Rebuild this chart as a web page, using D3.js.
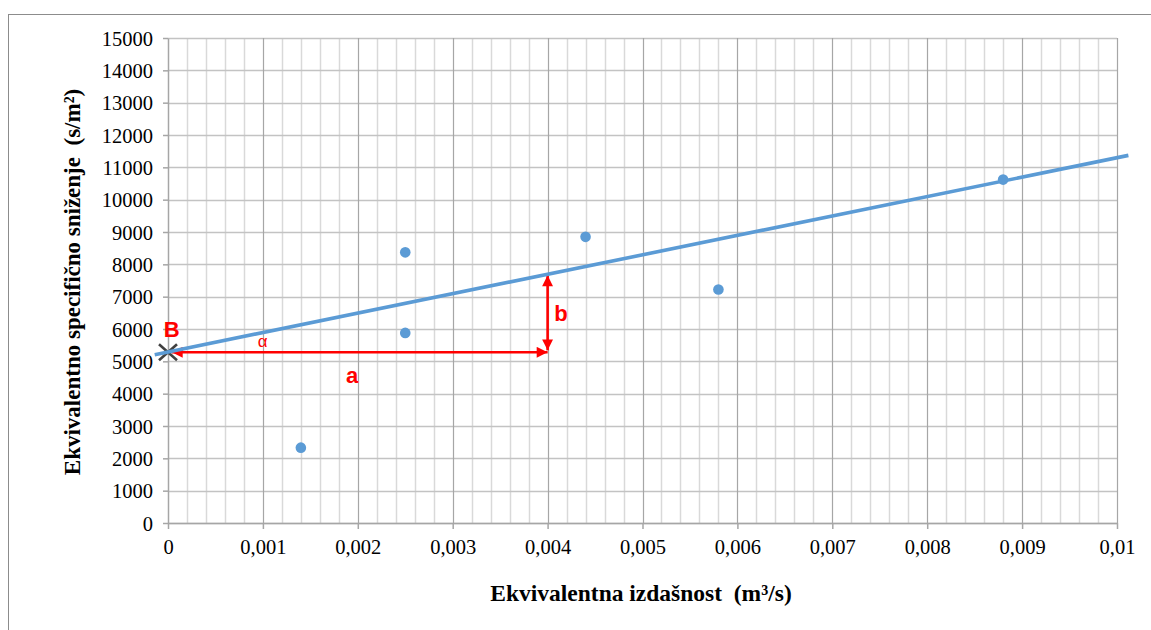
<!DOCTYPE html>
<html><head><meta charset="utf-8">
<script src="https://cdn.jsdelivr.net/npm/d3@7"></script>
<style>
html,body{margin:0;padding:0;background:#fff;}
svg{display:block;}
.serif{font-family:"Liberation Serif","Times New Roman",serif;}
</style></head>
<body>
<svg id="chart" width="1151" height="630"></svg>
<script>
// ---- data ----
const pointsX = [0.0014, 0.0025, 0.0025, 0.0044, 0.0058, 0.0088];
const pointsY = [2330, 8370, 5880, 8850, 7220, 10620];
const trendX = [-0.00014, 0.01012];
const trendY = [5206, 11370];
const xTickValues = [0, 0.001, 0.002, 0.003, 0.004, 0.005, 0.006, 0.007, 0.008, 0.009, 0.01];
const xTickLabels = ["0", "0,001", "0,002", "0,003", "0,004", "0,005", "0,006", "0,007", "0,008", "0,009", "0,01"];
const yTickValues = [0,1000,2000,3000,4000,5000,6000,7000,8000,9000,10000,11000,12000,13000,14000,15000];
const yTickLabels = yTickValues.map(String);
const pointB = [0, 5280];
const arrowA = [[0.00004, 5280], [0.0040, 5280]];
const arrowB = [[0.0040, 5340], [0.0040, 7660]];
const annoText = ["B", "α", "a", "b"];
const annoX = [0.00004, 0.000998, 0.00194, 0.00414];
const annoY = [5750, 5440, 4330, 6245];
const xTitle = "Ekvivalentna izdašnost\u00a0 (m³/s)";
const yTitle = "Ekvivalentno specifično sniženje\u00a0 (s/m²)";

const svg = d3.select("#chart");
const x = d3.scaleLinear().domain([0, 0.01]).range([168, 1117]);
const y = d3.scaleLinear().domain([0, 15000]).range([523, 38]);

// outer border
svg.append("rect").attr("x", 8.5).attr("y", 14.5).attr("width", 1200).attr("height", 700)
  .attr("fill", "none").attr("stroke", "#8c8c8c").attr("stroke-width", 1);

// minor vertical grid
const minorX = d3.range(0, 51).map(i => i * 0.0002);
svg.append("g").selectAll("line").data(minorX.filter((d, i) => i % 5 !== 0)).join("line")
  .attr("x1", d => Math.round(x(d)) + 0.5).attr("x2", d => Math.round(x(d)) + 0.5)
  .attr("y1", y(15000)).attr("y2", y(0))
  .attr("stroke", "#d9d9d9").attr("stroke-width", 1.5);
// horizontal grid
svg.append("g").selectAll("line").data(yTickValues).join("line")
  .attr("x1", x(0)).attr("x2", x(0.01))
  .attr("y1", d => Math.round(y(d)) + 0.5).attr("y2", d => Math.round(y(d)) + 0.5)
  .attr("stroke", "#c3c3c3").attr("stroke-width", 1.5);
// major vertical grid
svg.append("g").selectAll("line").data(xTickValues.slice(1)).join("line")
  .attr("x1", d => Math.round(x(d)) + 0.5).attr("x2", d => Math.round(x(d)) + 0.5)
  .attr("y1", y(15000)).attr("y2", y(0))
  .attr("stroke", "#a6a6a6").attr("stroke-width", 1.2);

// axes
const xAxis = d3.axisBottom(x).tickValues(xTickValues).tickFormat((d, i) => xTickLabels[i])
  .tickSizeInner(6).tickSizeOuter(0).tickPadding(8);
const gx = svg.append("g").attr("transform", `translate(0,${y(0)})`).call(xAxis);
const yAxis = d3.axisLeft(y).tickValues(yTickValues).tickFormat((d, i) => yTickLabels[i])
  .tickSizeInner(5).tickSizeOuter(0).tickPadding(10);
const gy = svg.append("g").attr("transform", `translate(${x(0)},0)`).call(yAxis);
[gx, gy].forEach(g => {
  g.attr("font-family", null).attr("font-size", null).attr("class", "serif");
  g.select(".domain").attr("stroke", "#a6a6a6").attr("stroke-width", 1.5);
  g.selectAll(".tick line").attr("stroke", "#a6a6a6").attr("stroke-width", 1.5);
  g.selectAll("text").attr("class", "serif")
    .style("font-family", "'Liberation Serif', 'Times New Roman', serif")
    .style("font-size", "20.5px").attr("fill", "#000");
});
gx.selectAll("text").attr("dy", "0.85em");
gy.selectAll("text").attr("dy", "0.35em");

// X marker at B
const bx = x(pointB[0]), by = y(pointB[1]);
const mk = svg.append("g").attr("stroke", "#404040").attr("stroke-width", 2.6).attr("stroke-linecap", "butt");
mk.append("line").attr("x1", bx - 9).attr("y1", by - 8).attr("x2", bx + 9).attr("y2", by + 8);
mk.append("line").attr("x1", bx - 9).attr("y1", by + 8).attr("x2", bx + 9).attr("y2", by - 8);

// arrow marker defs
const defs = svg.append("defs");
defs.append("marker").attr("id", "arr").attr("viewBox", "0 0 10 10")
  .attr("refX", 10).attr("refY", 5).attr("markerWidth", 5.4).attr("markerHeight", 4.2)
  .attr("markerUnits", "strokeWidth").attr("orient", "auto-start-reverse")
  .append("path").attr("d", "M0,0 L10,5 L0,10 z").attr("fill", "#ff0000");

// red arrows
const line = d3.line().x(d => x(d[0])).y(d => y(d[1]));
[arrowA, arrowB].forEach(a => {
  svg.append("path").attr("d", line(a)).attr("fill", "none").attr("stroke", "#ff0000")
    .attr("stroke-width", 2.6).attr("marker-start", "url(#arr)").attr("marker-end", "url(#arr)");
});

// trend line
svg.append("path").attr("d", line(trendX.map((d, i) => [d, trendY[i]])))
  .attr("fill", "none").attr("stroke", "#5b9bd5").attr("stroke-width", 3.6);

// points
svg.append("g").selectAll("circle").data(pointsX.map((d, i) => [d, pointsY[i]])).join("circle")
  .attr("cx", d => x(d[0])).attr("cy", d => y(d[1])).attr("r", 5.3)
  .attr("fill", "#5b9bd5");

// annotations
svg.append("g").selectAll("text").data(annoText).join("text")
  .attr("x", (d, i) => x(annoX[i])).attr("y", (d, i) => y(annoY[i]))
  .attr("text-anchor", "middle")
  .attr("font-family", "'Liberation Sans', Arial, sans-serif")
  .attr("font-weight", d => d === "α" ? "normal" : "bold")
  .attr("font-size", d => d === "α" ? 17 : 22)
  .attr("fill", "#ff0000").text(d => d);

// axis titles
svg.append("text").attr("x", 641).attr("y", 601).attr("text-anchor", "middle")
  .style("font-family", "'Liberation Serif', 'Times New Roman', serif").attr("font-weight", "bold")
  .attr("font-size", 23.5).attr("fill", "#000").text(xTitle);
svg.append("text").attr("transform", "translate(80,282) rotate(-90)").attr("text-anchor", "middle")
  .style("font-family", "'Liberation Serif', 'Times New Roman', serif").attr("font-weight", "bold")
  .attr("font-size", 23).attr("fill", "#000").text(yTitle);
</script>
</body></html>
